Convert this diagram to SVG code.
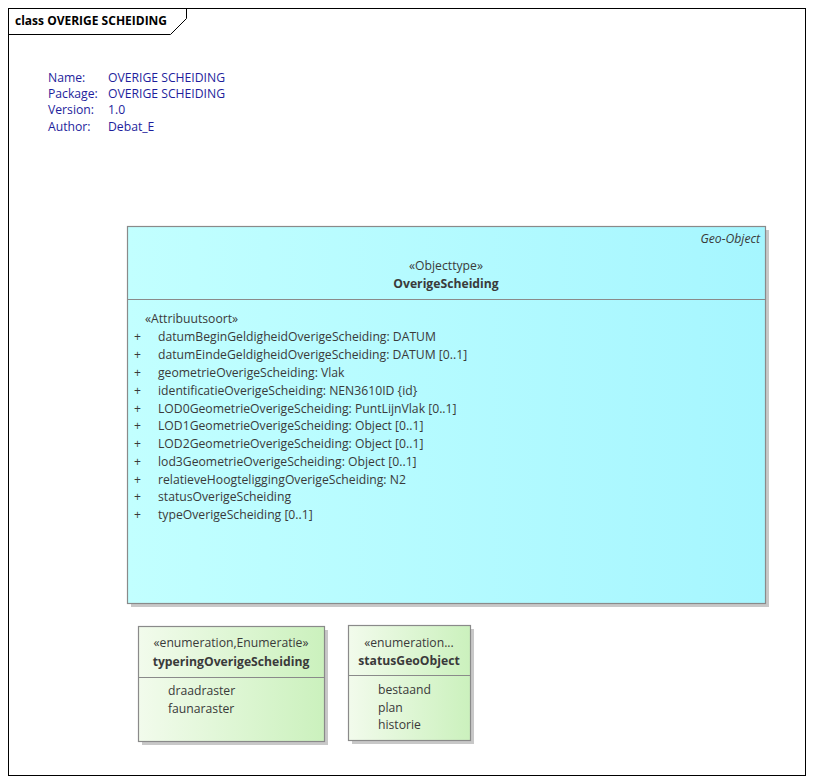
<svg xmlns="http://www.w3.org/2000/svg" width="814" height="784" viewBox="0 0 814 784">
<defs>
<linearGradient id="gCyan" x1="0" y1="0" x2="1" y2="0">
<stop offset="0" stop-color="#c2ffff"/>
<stop offset="1" stop-color="#a6f6ff"/>
</linearGradient>
<linearGradient id="gGreen" x1="0" y1="0" x2="1" y2="0">
<stop offset="0" stop-color="#f2fbec"/>
<stop offset="1" stop-color="#cbf1bd"/>
</linearGradient>
</defs>
<style>
text{font-family:"Open Sans","Noto Sans","DejaVu Sans",sans-serif;font-size:12.2px;fill:#3a3a3a}
.meta{fill:#1e1e9c}
.b{font-weight:bold}
.c{text-anchor:middle}
.box{stroke:#8a8a8a;stroke-width:1.2}
.sh{fill:#c8c8c8}
.sep{stroke:#8a8a8a;stroke-width:1.2}
</style>
<rect x="0" y="0" width="814" height="784" fill="#ffffff"/>
<g id="frame">
<rect x="8.5" y="8.5" width="797" height="767" fill="none" stroke="#000" stroke-width="1"/>
<path d="M8.5 34.5 H170.5 L186.5 18.5 V8.5" fill="none" stroke="#000" stroke-width="1"/>
<text x="15" y="25" class="b" style="fill:#000;font-size:12px">class OVERIGE SCHEIDING</text>
</g>
<g id="meta">
<text x="48" y="82" class="meta">Name:</text>
<text x="108" y="82" class="meta">OVERIGE SCHEIDING</text>
<text x="48" y="98" class="meta">Package:</text>
<text x="108" y="98" class="meta">OVERIGE SCHEIDING</text>
<text x="48" y="114" class="meta">Version:</text>
<text x="108" y="114" class="meta">1.0</text>
<text x="48" y="131" class="meta">Author:</text>
<text x="108" y="131" class="meta">Debat_E</text>
</g>
<g id="OverigeScheiding">
<rect x="131" y="230" width="638" height="377" class="sh"/>
<rect x="127.5" y="226.5" width="638" height="377" fill="url(#gCyan)" class="box"/>
<line x1="127.5" y1="299.5" x2="765.5" y2="299.5" class="sep"/>
<text x="760" y="243" style="font-style:italic;text-anchor:end">Geo-Object</text>
<text x="446" y="270" class="c">«Objecttype»</text>
<text x="446" y="288" class="c b">OverigeScheiding</text>
<text x="145" y="323">«Attribuutsoort»</text>
<g>
<text x="134" y="341">+</text><text x="158" y="341">datumBeginGeldigheidOverigeScheiding: DATUM</text>
<text x="134" y="359">+</text><text x="158" y="359">datumEindeGeldigheidOverigeScheiding: DATUM [0..1]</text>
<text x="134" y="377">+</text><text x="158" y="377">geometrieOverigeScheiding: Vlak</text>
<text x="134" y="395">+</text><text x="158" y="395">identificatieOverigeScheiding: NEN3610ID {id}</text>
<text x="134" y="413">+</text><text x="158" y="413">LOD0GeometrieOverigeScheiding: PuntLijnVlak [0..1]</text>
<text x="134" y="430">+</text><text x="158" y="430">LOD1GeometrieOverigeScheiding: Object [0..1]</text>
<text x="134" y="448">+</text><text x="158" y="448">LOD2GeometrieOverigeScheiding: Object [0..1]</text>
<text x="134" y="466">+</text><text x="158" y="466">lod3GeometrieOverigeScheiding: Object [0..1]</text>
<text x="134" y="484">+</text><text x="158" y="484">relatieveHoogteliggingOverigeScheiding: N2</text>
<text x="134" y="501">+</text><text x="158" y="501">statusOverigeScheiding</text>
<text x="134" y="519">+</text><text x="158" y="519">typeOverigeScheiding [0..1]</text>
</g>
</g>
<g id="typeringOverigeScheiding">
<rect x="142" y="630" width="186" height="115" class="sh"/>
<rect x="138.5" y="626.5" width="186" height="115" fill="url(#gGreen)" class="box"/>
<line x1="138.5" y1="677.5" x2="324.5" y2="677.5" class="sep"/>
<text x="231" y="647" class="c">«enumeration,Enumeratie»</text>
<text x="231" y="666" class="c b">typeringOverigeScheiding</text>
<text x="168" y="695">draadraster</text>
<text x="168" y="713">faunaraster</text>
</g>
<g id="statusGeoObject">
<rect x="352" y="629" width="122" height="115" class="sh"/>
<rect x="348.5" y="625.5" width="122" height="115" fill="url(#gGreen)" class="box"/>
<line x1="348.5" y1="675.5" x2="470.5" y2="675.5" class="sep"/>
<text x="409" y="647" class="c">«enumeration...</text>
<text x="409" y="665" class="c b">statusGeoObject</text>
<text x="378" y="694">bestaand</text>
<text x="378" y="712">plan</text>
<text x="378" y="729">historie</text>
</g>
<g id="connectors"/>
</svg>
